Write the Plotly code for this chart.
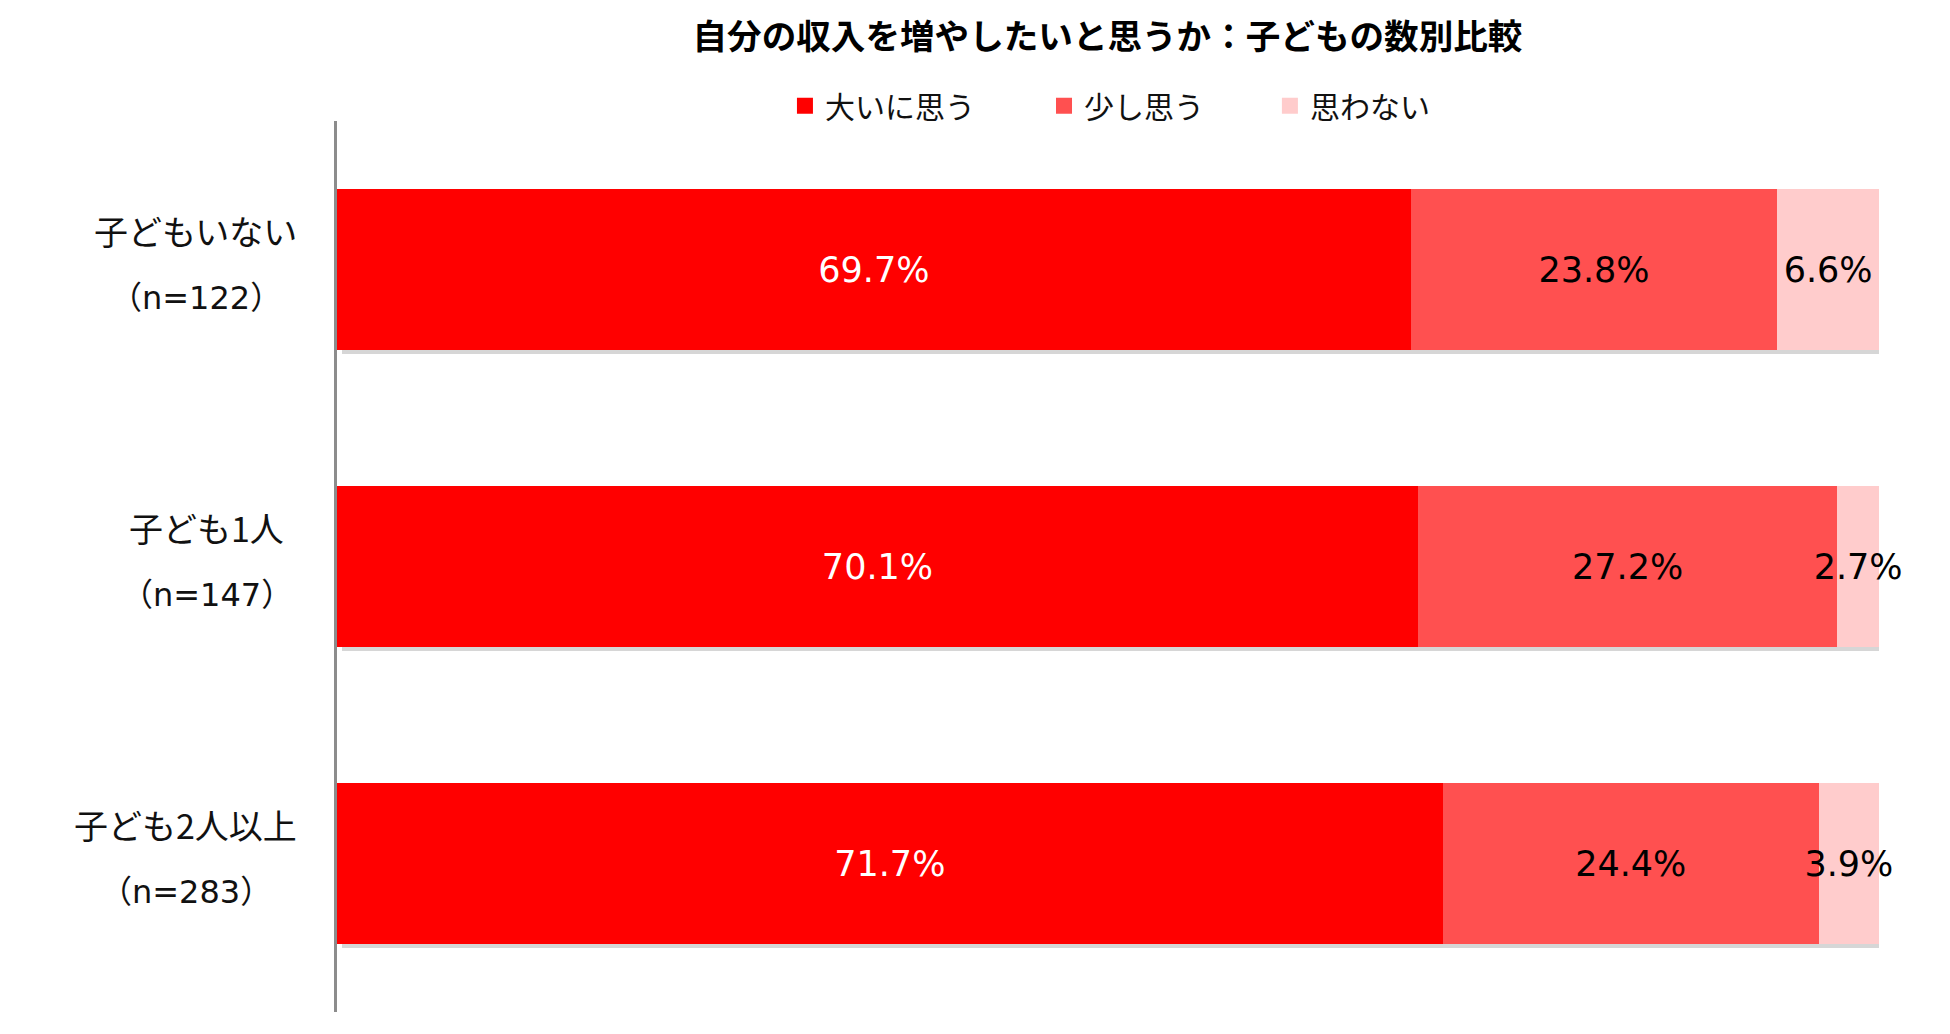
import plotly.graph_objects as go

categories = ["子どもいない", "子ども1人", "子ども2人以上"]
n_values = [122, 147, 283]
series_names = ["大いに思う", "少し思う", "思わない"]
strongly = [69.7, 70.1, 71.7]
somewhat = [23.8, 27.2, 24.4]
not_think = [6.6, 2.7, 3.9]
colors = ["#FF0000", "#FF5050", "#FFCCCC"]
text_colors = ["white", "black", "black"]
title_text = "自分の収入を増やしたいと思うか：子どもの数別比較"

# layout: horizontal placement (paper units) of category labels and legend entries
label_x = [-0.0915, -0.0845, -0.098]
legend_x = [0.2905, 0.4585, 0.605]

series = [strongly, somewhat, not_think]
totals = [sum(v) for v in zip(*series)]

fig = go.Figure()

# soft shadow under each bar (base axes, offset slightly)
fig.add_trace(go.Bar(
    y=categories, x=totals, orientation="h", width=0.54,
    marker=dict(color="rgba(0,0,0,0.16)", line=dict(width=0)),
    showlegend=False, hoverinfo="skip", cliponaxis=False, xaxis="x", yaxis="y",
))

for name, vals, col, tcol in zip(series_names, series, colors, text_colors):
    fig.add_trace(go.Bar(
        y=categories, x=vals, orientation="h", name=name, width=0.54,
        marker=dict(color=col, line=dict(width=0)),
        text=[f"{v:.1f}%" for v in vals],
        textposition="inside", insidetextanchor="middle", textangle=0,
        constraintext="none", cliponaxis=False,
        textfont=dict(family="DejaVu Sans", size=35, color=tcol),
        showlegend=False, xaxis="x2", yaxis="y2",
    ))

# legend proxies with larger squares, one legend box per entry
legend_names = ["legend", "legend2", "legend3"]
for name, col, lg in zip(series_names, colors, legend_names):
    fig.add_trace(go.Scatter(
        x=[None], y=[None], mode="markers", name=name, legend=lg,
        marker=dict(symbol="square", size=20, color=col),
        xaxis="x2", yaxis="y2",
    ))

annotations = []
for cat, n, lx in zip(categories, n_values, label_x):
    annotations.append(dict(
        x=lx, xref="paper", y=cat, yref="y2", text=cat, showarrow=False,
        xanchor="center", yanchor="middle", yshift=39,
        font=dict(family="Noto Sans CJK JP", size=34, color="#111"),
    ))
    annotations.append(dict(
        x=lx, xref="paper", y=cat, yref="y2", text=f"（n={n}）", showarrow=False,
        xanchor="center", yanchor="middle", yshift=-28,
        font=dict(family="DejaVu Sans, Noto Sans CJK JP", size=32, color="#111"),
    ))

legend_style = dict(orientation="h", xanchor="left", y=1.017, yanchor="middle",
                    font=dict(family="Noto Sans CJK JP", size=30, color="#111"),
                    bgcolor="rgba(0,0,0,0)",
                    itemclick=False, itemdoubleclick=False)

fig.update_layout(
    width=1934, height=1018,
    margin=dict(l=329, r=63, t=113, b=14),
    paper_bgcolor="white", plot_bgcolor="white",
    barmode="stack", barnorm="percent", bargap=0.46,
    title=dict(text=f"<b>{title_text}</b>", x=0.5685, xanchor="center",
               y=0.972, yanchor="middle",
               font=dict(family="Noto Sans CJK JP", size=34.6, color="black")),
    legend=dict(x=legend_x[0], **legend_style),
    legend2=dict(x=legend_x[1], **legend_style),
    legend3=dict(x=legend_x[2], **legend_style),
    xaxis=dict(range=[-0.3, 99.7], visible=False, fixedrange=True),
    yaxis=dict(range=[2.5 - 0.015, -0.5 - 0.015], visible=False, fixedrange=True,
               type="category", categoryorder="array", categoryarray=categories),
    xaxis2=dict(range=[0, 100.001], visible=False, overlaying="x", anchor="y2", fixedrange=True),
    yaxis2=dict(range=[2.5, -0.5], overlaying="y", anchor="x2", fixedrange=True,
                type="category", categoryorder="array", categoryarray=categories,
                showticklabels=False, ticks="", showgrid=False, zeroline=False,
                showline=True, linecolor="#8c8c8c", linewidth=3),
    annotations=annotations,
)

fig.write_html("out.html")
